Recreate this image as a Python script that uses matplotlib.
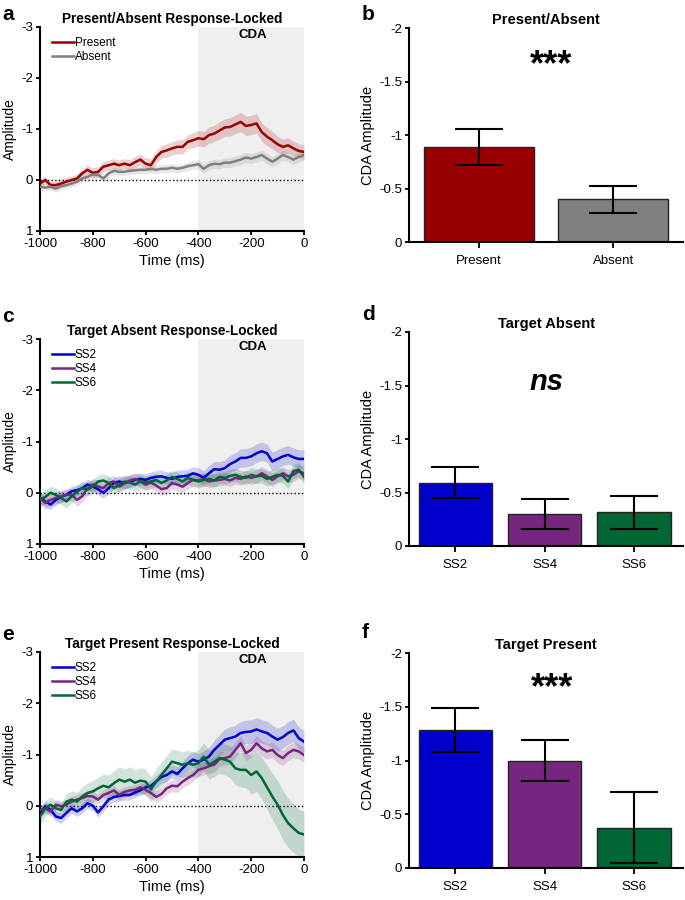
import numpy as np
import matplotlib.pyplot as plt
from matplotlib.ticker import FormatStrFormatter

plt.switch_backend('agg')
plt.rcParams['font.family'] = ['Liberation Sans', 'DejaVu Sans']
plt.rcParams['axes.unicode_minus'] = False

# time axis of the waveforms (ms, response-locked)
time_ms = list(range(-1000, 1, 20))

# panel a: present / absent waveforms (negative = up)
present = [0.07, 0, 0.1, 0.1, 0.07, 0.03, 0, -0.03, -0.13, -0.2,
           -0.14, -0.16, -0.26, -0.29, -0.32, -0.29, -0.32, -0.29, -0.35, -0.4,
           -0.32, -0.29, -0.45, -0.55, -0.58, -0.62, -0.65, -0.65, -0.75, -0.78,
           -0.82, -0.8, -0.88, -0.91, -0.97, -1.03, -1.04, -1.09, -1.14, -1.06,
           -1.08, -1.11, -0.94, -0.85, -0.78, -0.7, -0.65, -0.68, -0.62, -0.57, -0.55]
present_se = [0.08, 0.08, 0.08, 0.08, 0.08, 0.08, 0.08, 0.09, 0.09, 0.09,
              0.1, 0.1, 0.1, 0.1, 0.1, 0.1, 0.1, 0.11, 0.11, 0.11,
              0.12, 0.12, 0.12, 0.13, 0.13, 0.13, 0.14, 0.14, 0.14, 0.15,
              0.15, 0.15, 0.16, 0.16, 0.17, 0.17, 0.18, 0.18, 0.19, 0.19,
              0.19, 0.19, 0.18, 0.18, 0.17, 0.16, 0.15, 0.15, 0.14, 0.14, 0.14]
absent = [0.13, 0.15, 0.13, 0.17, 0.12, 0.1, 0.07, 0.03, -0.03, -0.06,
          -0.11, -0.1, -0.03, -0.13, -0.18, -0.16, -0.16, -0.18, -0.19, -0.2,
          -0.2, -0.22, -0.2, -0.22, -0.22, -0.24, -0.22, -0.24, -0.27, -0.29,
          -0.31, -0.22, -0.29, -0.32, -0.31, -0.34, -0.34, -0.37, -0.4, -0.44,
          -0.42, -0.45, -0.49, -0.42, -0.36, -0.42, -0.49, -0.45, -0.4, -0.45, -0.49]
absent_se = [0.07, 0.07, 0.07, 0.07, 0.07, 0.07, 0.07, 0.07, 0.07, 0.07,
             0.07, 0.07, 0.07, 0.07, 0.07, 0.07, 0.07, 0.07, 0.07, 0.07,
             0.08, 0.08, 0.08, 0.08, 0.08, 0.08, 0.08, 0.08, 0.08, 0.08,
             0.09, 0.09, 0.09, 0.09, 0.09, 0.09, 0.1, 0.1, 0.1, 0.1,
             0.1, 0.1, 0.1, 0.1, 0.1, 0.1, 0.1, 0.1, 0.1, 0.1, 0.1]

# panel c: target absent by set size
absent_ss2 = [0.1, 0.17, 0.23, 0.14, 0.08, 0.04, -0.03, -0.05, -0.09, -0.16,
              -0.12, -0.07, 0, -0.09, -0.19, -0.22, -0.19, -0.22, -0.25, -0.27,
              -0.25, -0.29, -0.31, -0.32, -0.29, -0.27, -0.31, -0.32, -0.33, -0.38,
              -0.35, -0.29, -0.38, -0.46, -0.45, -0.48, -0.56, -0.61, -0.68, -0.68,
              -0.71, -0.77, -0.81, -0.77, -0.61, -0.66, -0.71, -0.74, -0.69, -0.66, -0.66]
absent_ss2_se = [0.1, 0.1, 0.1, 0.1, 0.1, 0.1, 0.1, 0.1, 0.1, 0.1,
                 0.11, 0.11, 0.11, 0.11, 0.11, 0.11, 0.12, 0.12, 0.12, 0.12,
                 0.12, 0.12, 0.12, 0.12, 0.12, 0.13, 0.13, 0.13, 0.13, 0.13,
                 0.14, 0.14, 0.15, 0.15, 0.16, 0.16, 0.17, 0.17, 0.18, 0.18,
                 0.18, 0.18, 0.18, 0.18, 0.18, 0.18, 0.18, 0.18, 0.18, 0.18, 0.18]
absent_ss4 = [0.1, 0.2, 0.14, 0.1, 0.07, 0.04, 0.04, 0.14, 0.07, -0.09,
              -0.16, -0.12, -0.09, -0.19, -0.22, -0.12, -0.18, -0.24, -0.27, -0.22,
              -0.16, -0.2, -0.14, -0.07, -0.09, -0.19, -0.16, -0.12, -0.19, -0.25,
              -0.24, -0.27, -0.22, -0.24, -0.25, -0.27, -0.24, -0.29, -0.27, -0.32,
              -0.29, -0.32, -0.38, -0.32, -0.25, -0.32, -0.38, -0.32, -0.35, -0.42, -0.38]
absent_ss4_se = [0.12, 0.12, 0.12, 0.12, 0.12, 0.12, 0.12, 0.12, 0.12, 0.12,
                 0.12, 0.12, 0.12, 0.12, 0.12, 0.12, 0.12, 0.12, 0.12, 0.12,
                 0.12, 0.12, 0.12, 0.12, 0.12, 0.12, 0.12, 0.12, 0.12, 0.12,
                 0.12, 0.12, 0.12, 0.12, 0.12, 0.12, 0.12, 0.12, 0.12, 0.12,
                 0.13, 0.13, 0.13, 0.13, 0.13, 0.13, 0.13, 0.13, 0.13, 0.13, 0.13]
absent_ss6 = [0.14, 0.08, 0, 0.04, 0.1, 0.17, 0.07, -0.02, -0.09, -0.06,
              -0.12, -0.22, -0.24, -0.19, -0.09, -0.16, -0.22, -0.2, -0.16, -0.22,
              -0.2, -0.22, -0.25, -0.19, -0.24, -0.31, -0.27, -0.22, -0.29, -0.25,
              -0.22, -0.25, -0.27, -0.24, -0.31, -0.29, -0.33, -0.35, -0.31, -0.29,
              -0.35, -0.32, -0.33, -0.27, -0.31, -0.35, -0.33, -0.22, -0.42, -0.45, -0.31]
absent_ss6_se = [0.13, 0.13, 0.13, 0.13, 0.13, 0.13, 0.13, 0.13, 0.13, 0.13,
                 0.13, 0.13, 0.13, 0.13, 0.13, 0.13, 0.13, 0.13, 0.13, 0.13,
                 0.13, 0.13, 0.13, 0.13, 0.13, 0.13, 0.13, 0.13, 0.13, 0.13,
                 0.13, 0.13, 0.13, 0.13, 0.13, 0.13, 0.13, 0.13, 0.13, 0.13,
                 0.14, 0.14, 0.14, 0.14, 0.14, 0.14, 0.14, 0.14, 0.14, 0.14, 0.14]

# panel e: target present by set size
present_ss2 = [0.14, 0.01, 0.08, 0.21, 0.24, 0.14, 0.05, 0.11, 0.05, -0.05,
               0, 0.13, 0.01, -0.12, -0.17, -0.19, -0.21, -0.21, -0.26, -0.3,
               -0.36, -0.39, -0.47, -0.56, -0.6, -0.67, -0.62, -0.73, -0.83, -0.9,
               -0.86, -0.9, -0.96, -1.09, -1.19, -1.29, -1.32, -1.35, -1.42, -1.44,
               -1.45, -1.49, -1.45, -1.42, -1.35, -1.29, -1.34, -1.42, -1.47, -1.32, -1.25]
present_ss2_se = [0.1, 0.1, 0.1, 0.1, 0.1, 0.1, 0.1, 0.1, 0.1, 0.1,
                  0.1, 0.1, 0.1, 0.1, 0.1, 0.1, 0.1, 0.1, 0.1, 0.1,
                  0.11, 0.11, 0.12, 0.12, 0.13, 0.13, 0.14, 0.14, 0.15, 0.15,
                  0.16, 0.17, 0.18, 0.19, 0.2, 0.21, 0.22, 0.22, 0.23, 0.23,
                  0.23, 0.23, 0.23, 0.23, 0.22, 0.22, 0.22, 0.22, 0.22, 0.22, 0.22]
present_ss4 = [0.08, 0.05, 0.11, -0.02, 0.01, -0.02, -0.08, -0.12, -0.15, -0.19,
               -0.18, -0.12, -0.21, -0.25, -0.3, -0.21, -0.27, -0.3, -0.31, -0.36,
               -0.31, -0.25, -0.17, -0.23, -0.34, -0.39, -0.38, -0.47, -0.54, -0.6,
               -0.7, -0.73, -0.77, -0.8, -0.91, -0.93, -0.96, -1.09, -1.22, -1.03,
               -1.09, -1.22, -1.12, -1.06, -1.09, -0.99, -0.93, -1.03, -1.09, -1.06, -0.99]
present_ss4_se = [0.1, 0.1, 0.1, 0.1, 0.1, 0.1, 0.1, 0.1, 0.1, 0.1,
                  0.1, 0.1, 0.1, 0.1, 0.1, 0.1, 0.1, 0.1, 0.1, 0.1,
                  0.11, 0.11, 0.11, 0.11, 0.12, 0.12, 0.12, 0.12, 0.13, 0.13,
                  0.13, 0.13, 0.14, 0.14, 0.14, 0.14, 0.15, 0.15, 0.15, 0.15,
                  0.15, 0.15, 0.15, 0.15, 0.15, 0.15, 0.15, 0.15, 0.15, 0.15, 0.15]
present_ss6 = [0.21, 0.05, -0.02, 0.05, 0.08, -0.08, -0.12, -0.08, -0.18, -0.25,
               -0.28, -0.34, -0.39, -0.36, -0.44, -0.51, -0.47, -0.51, -0.45, -0.49,
               -0.47, -0.32, -0.47, -0.6, -0.73, -0.86, -0.83, -0.8, -0.83, -0.8,
               -0.83, -0.96, -0.8, -0.86, -0.93, -0.9, -0.86, -0.73, -0.7, -0.7,
               -0.6, -0.67, -0.54, -0.36, -0.18, -0.02, 0.18, 0.34, 0.44, 0.53, 0.56]
present_ss6_se = [0.15, 0.15, 0.15, 0.15, 0.15, 0.16, 0.17, 0.18, 0.19, 0.2,
                  0.21, 0.22, 0.23, 0.24, 0.25, 0.25, 0.25, 0.25, 0.25, 0.25,
                  0.25, 0.25, 0.25, 0.25, 0.25, 0.25, 0.25, 0.25, 0.25, 0.25,
                  0.26, 0.27, 0.28, 0.29, 0.3, 0.3, 0.31, 0.32, 0.33, 0.35,
                  0.37, 0.39, 0.41, 0.43, 0.45, 0.47, 0.48, 0.48, 0.47, 0.46, 0.45]

# bar panels: mean CDA amplitude in the -400..0 window and SE
pa_labels = ['Present', 'Absent']
pa_means = [-0.89, -0.40]
pa_err = [0.17, 0.125]
ss_labels = ['SS2', 'SS4', 'SS6']
ta_means = [-0.59, -0.295, -0.315]
ta_err = [0.145, 0.14, 0.155]
tp_means = [-1.28, -1.0, -0.375]
tp_err = [0.205, 0.19, 0.33]

RED = '#990000'
GRAY = '#808080'
BLUE = '#0000cc'
PURPLE = '#77267f'
GREEN = '#006633'

W, H = 685.0, 900.0


def px_axes(fig, left, top, right, bottom):
    # axes placed by pixel box of the reference picture
    return fig.add_axes([left / W, 1 - bottom / H, (right - left) / W, (bottom - top) / H])


def style_axes(ax):
    for s in ['top', 'right']:
        ax.spines[s].set_visible(False)
    for s in ['left', 'bottom']:
        ax.spines[s].set_linewidth(1.5)
    ax.tick_params(direction='out', width=1.3, length=3, labelsize=9.5, pad=2)


def plot_wave(ax, series, title):
    ax.axvspan(-400, 0, color='#efefef', lw=0, zorder=0)
    ax.plot([-1000, 0], [0, 0], color='black', ls=':', lw=1, zorder=1)
    t = np.array(time_ms)
    for mean, se, color, label in series:
        mean = np.array(mean)
        se = np.array(se)
        ax.fill_between(t, mean - se, mean + se, color=color, alpha=0.18, lw=0, zorder=2)
        ax.plot(t, mean, color=color, lw=1.8, label=label, zorder=3)
    ax.set_xlim(-1000, 0)
    ax.set_ylim(1, -3)
    ax.set_xticks(range(-1000, 1, 200))
    ax.set_yticks([-3, -2, -1, 0, 1])
    ax.set_xlabel('Time (ms)', fontsize=10.5, labelpad=3)
    ax.set_ylabel('Amplitude', fontsize=10, labelpad=3)
    ax.set_title(title, fontsize=9.8, fontweight='bold', pad=3)
    ax.text(-195, -2.84, 'CDA', fontsize=9.5, fontweight='bold', ha='center', va='center')
    ax.legend(loc='upper left', frameon=False, fontsize=8.5, handlelength=1.8,
              handletextpad=0.1, labelspacing=0.15, borderaxespad=0.2,
              bbox_to_anchor=(0.02, 0.985))
    style_axes(ax)


def plot_bars(ax, labels, means, errs, colors, title, xlim):
    x = np.arange(len(labels))
    ax.bar(x, means, width=0.82, color=colors, edgecolor='#222222', lw=1, zorder=2)
    ax.errorbar(x, means, yerr=errs, fmt='none', ecolor='black', elinewidth=1.5,
                capsize=17, capthick=1.5, zorder=3)
    ax.set_xlim(*xlim)
    ax.set_ylim(0, -2)
    ax.set_xticks(x)
    ax.set_xticklabels(labels)
    ax.set_yticks([-2, -1.5, -1, -0.5, 0])
    ax.yaxis.set_major_formatter(FormatStrFormatter('%g'))
    ax.set_ylabel('CDA Amplitude', fontsize=10.5, labelpad=3)
    ax.set_title(title, fontsize=10.5, fontweight='bold', pad=3)
    style_axes(ax)
    ax.tick_params(axis='x', length=4, pad=5)


fig = plt.figure(figsize=(6.85, 9.0), dpi=100)

ax_a = px_axes(fig, 40, 27, 304, 231)
plot_wave(ax_a, [(present, present_se, RED, 'Present'),
                 (absent, absent_se, GRAY, 'Absent')],
          'Present/Absent Response-Locked')

ax_b = px_axes(fig, 409, 28, 683, 242)
plot_bars(ax_b, pa_labels, pa_means, pa_err, [RED, GRAY], 'Present/Absent', (-0.52, 1.52))
ax_b.text(0.54, -1.65, '***', fontsize=26, fontweight='bold', ha='center', va='center')

ax_c = px_axes(fig, 40, 339, 304, 544)
plot_wave(ax_c, [(absent_ss2, absent_ss2_se, BLUE, 'SS2'),
                 (absent_ss4, absent_ss4_se, PURPLE, 'SS4'),
                 (absent_ss6, absent_ss6_se, GREEN, 'SS6')],
          'Target Absent Response-Locked')

ax_d = px_axes(fig, 409, 332, 683, 546)
plot_bars(ax_d, ss_labels, ta_means, ta_err, [BLUE, PURPLE, GREEN], 'Target Absent', (-0.52, 2.55))
ax_d.text(1.02, -1.53, 'ns', fontsize=21, fontweight='bold', style='italic', ha='center', va='center')

ax_e = px_axes(fig, 40, 652, 304, 857)
plot_wave(ax_e, [(present_ss2, present_ss2_se, BLUE, 'SS2'),
                 (present_ss4, present_ss4_se, PURPLE, 'SS4'),
                 (present_ss6, present_ss6_se, GREEN, 'SS6')],
          'Target Present Response-Locked')

ax_f = px_axes(fig, 409, 653, 683, 868)
plot_bars(ax_f, ss_labels, tp_means, tp_err, [BLUE, PURPLE, GREEN], 'Target Present', (-0.52, 2.55))
ax_f.text(1.08, -1.67, '***', fontsize=26, fontweight='bold', ha='center', va='center')

# panel letters
for letter, x, y in [('a', 2, 15), ('b', 362, 15), ('c', 2, 317),
                     ('d', 362, 315), ('e', 2, 635), ('f', 362, 633)]:
    fig.text(x / W, 1 - y / H, letter, fontsize=15, fontweight='bold', va='center', ha='left')

fig.savefig('out.png', dpi=100)
